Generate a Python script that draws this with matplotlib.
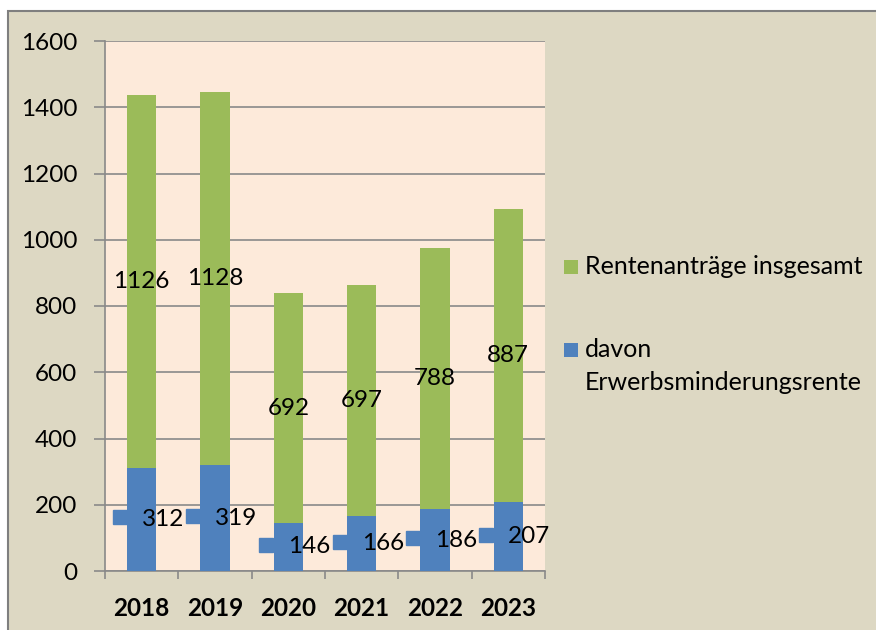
import matplotlib
matplotlib.use("Agg")
import matplotlib.pyplot as plt
from matplotlib.patches import Rectangle
from matplotlib.transforms import ScaledTranslation
import numpy as np

years = ["2018", "2019", "2020", "2021", "2022", "2023"]
erwerb = [312, 319, 146, 166, 186, 207]
rest = [1126, 1128, 692, 697, 788, 887]
series_names = ["Rentenanträge insgesamt", "davon\nErwerbsminderungsrente"]
yticks = [0, 200, 400, 600, 800, 1000, 1200, 1400, 1600]

GREEN = "#9BBB59"
BLUE = "#4F81BD"
PLOT_BG = "#FDEADA"
FIG_BG = "#DDD8C3"
GRID = "#898989"

plt.rcParams['font.family'] = ['Lato', 'DejaVu Sans']
FS = 17.5
LFS = 18

W, H = 876, 630
fig = plt.figure(figsize=(W / 100, H / 100), dpi=100, facecolor="white")
fig.patches.append(Rectangle((8 / W, -0.05), 1.2, 1 - 11 / H + 0.05, transform=fig.transFigure,
                             facecolor=FIG_BG, edgecolor="#7F7F7F", linewidth=1.5, zorder=-10))

ax = fig.add_axes([105 / W, 1 - 571 / H, 440 / W, 530 / H])
ax.set_zorder(2)
ax.set_facecolor(PLOT_BG)
x = np.arange(len(years))
bw = 0.4
ax.bar(x, erwerb, bw, color=BLUE, zorder=3)
ax.bar(x, rest, bw, bottom=erwerb, color=GREEN, zorder=3)

ax.set_xlim(-0.5, len(years) - 0.5)
ax.set_ylim(0, 1600)
ax.set_yticks(yticks)
ax.set_yticklabels([str(t) for t in yticks], fontsize=FS)
ax.yaxis.grid(True, color=GRID, linewidth=1.2, zorder=1)
ax.set_axisbelow(True)
ax.tick_params(axis='y', length=8, width=1.2, color=GRID, pad=12)

ax.set_xticks(x)
ax.set_xticklabels(years, fontsize=FS, fontweight='bold')
ax.set_xticks(np.arange(len(years) + 1) - 0.5, minor=True)
ax.tick_params(axis='x', which='major', length=0, pad=19)
ax.tick_params(axis='x', which='minor', length=6, width=1.2, color=GRID)

for s in ["top", "right"]:
    ax.spines[s].set_visible(False)
for s in ["left", "bottom"]:
    ax.spines[s].set_color(GRID)
    ax.spines[s].set_linewidth(1.2)

# data labels
for i in range(len(years)):
    b = erwerb[i]
    r = rest[i]
    ax.text(x[i], b + r / 2, str(r), ha='center', va='center', fontsize=FS, zorder=5)
    ax.text(x[i], b / 2, str(b), ha='left', va='center', fontsize=FS, zorder=5)
    off = ScaledTranslation(-22 / 100, 2 / 100, fig.dpi_scale_trans)
    ax.plot([x[i]], [b / 2], marker='s', ms=10.5, color=BLUE, linestyle='none',
            transform=ax.transData + off, zorder=5, clip_on=False)

# legend (manual)
leg_items = [(GREEN, series_names[0], 267), (BLUE, series_names[1], 350)]
for col, name, yc in leg_items:
    fig.patches.append(Rectangle((564 / W, 1 - (yc + 7) / H), 14 / W, 14 / H,
                                 transform=fig.transFigure, facecolor=col, edgecolor='none'))
    fig.text(585 / W, 1 - (yc - 12) / H, name, fontsize=LFS, va='top', ha='left',
             linespacing=1.55)

fig.savefig("out.png", dpi=100, facecolor=fig.get_facecolor())
